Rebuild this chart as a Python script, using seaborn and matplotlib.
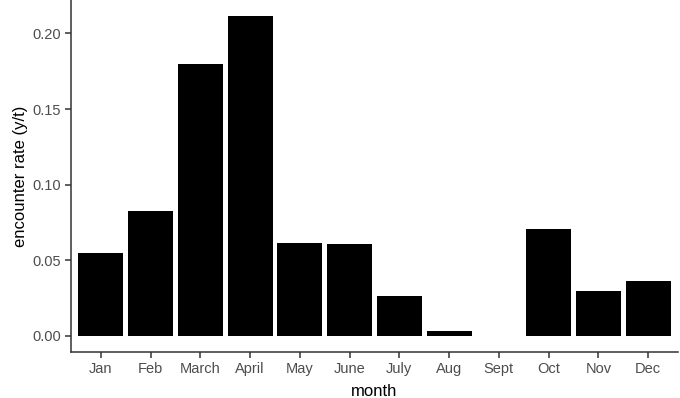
import matplotlib
matplotlib.use("Agg")
import matplotlib.pyplot as plt
import seaborn as sns
import pandas as pd

months = ["Jan", "Feb", "March", "April", "May", "June", "July", "Aug", "Sept", "Oct", "Nov", "Dec"]
rates = [0.0546, 0.0827, 0.1798, 0.2115, 0.0612, 0.0605, 0.0263, 0.0030, 0.0, 0.0704, 0.0296, 0.0366]

df = pd.DataFrame({"month": months, "rate": rates})

sns.set_theme(style="ticks")
plt.rcParams["font.family"] = ["Liberation Sans", "DejaVu Sans"]

fig = plt.figure(figsize=(6.8, 3.98), dpi=100)
ax = fig.add_axes([71/680, 1 - 352/398, (678 - 71)/680, 352/398])

sns.barplot(data=df, x="month", y="rate", order=months, color="black",
            width=0.9, saturation=1, edgecolor="none", ax=ax)

ax.set_xlim(-0.6, 11.6)
ax.set_ylim(-0.0106, 0.2221)
ax.set_yticks([0.0, 0.05, 0.10, 0.15, 0.20])
ax.set_yticklabels(["0.00", "0.05", "0.10", "0.15", "0.20"])

for s in ["top", "right"]:
    ax.spines[s].set_visible(False)
for s in ["left", "bottom"]:
    ax.spines[s].set_color("#333333")
    ax.spines[s].set_linewidth(1.1)

ax.tick_params(axis="both", colors="#333333", labelcolor="#4D4D4D",
               labelsize=10.5, length=4, width=1.1, pad=3)
ax.set_xlabel("month", fontsize=12, color="black", labelpad=6)
ax.set_ylabel("encounter rate (y/t)", fontsize=12, color="black", labelpad=3)

fig.savefig("out.png", dpi=100)
